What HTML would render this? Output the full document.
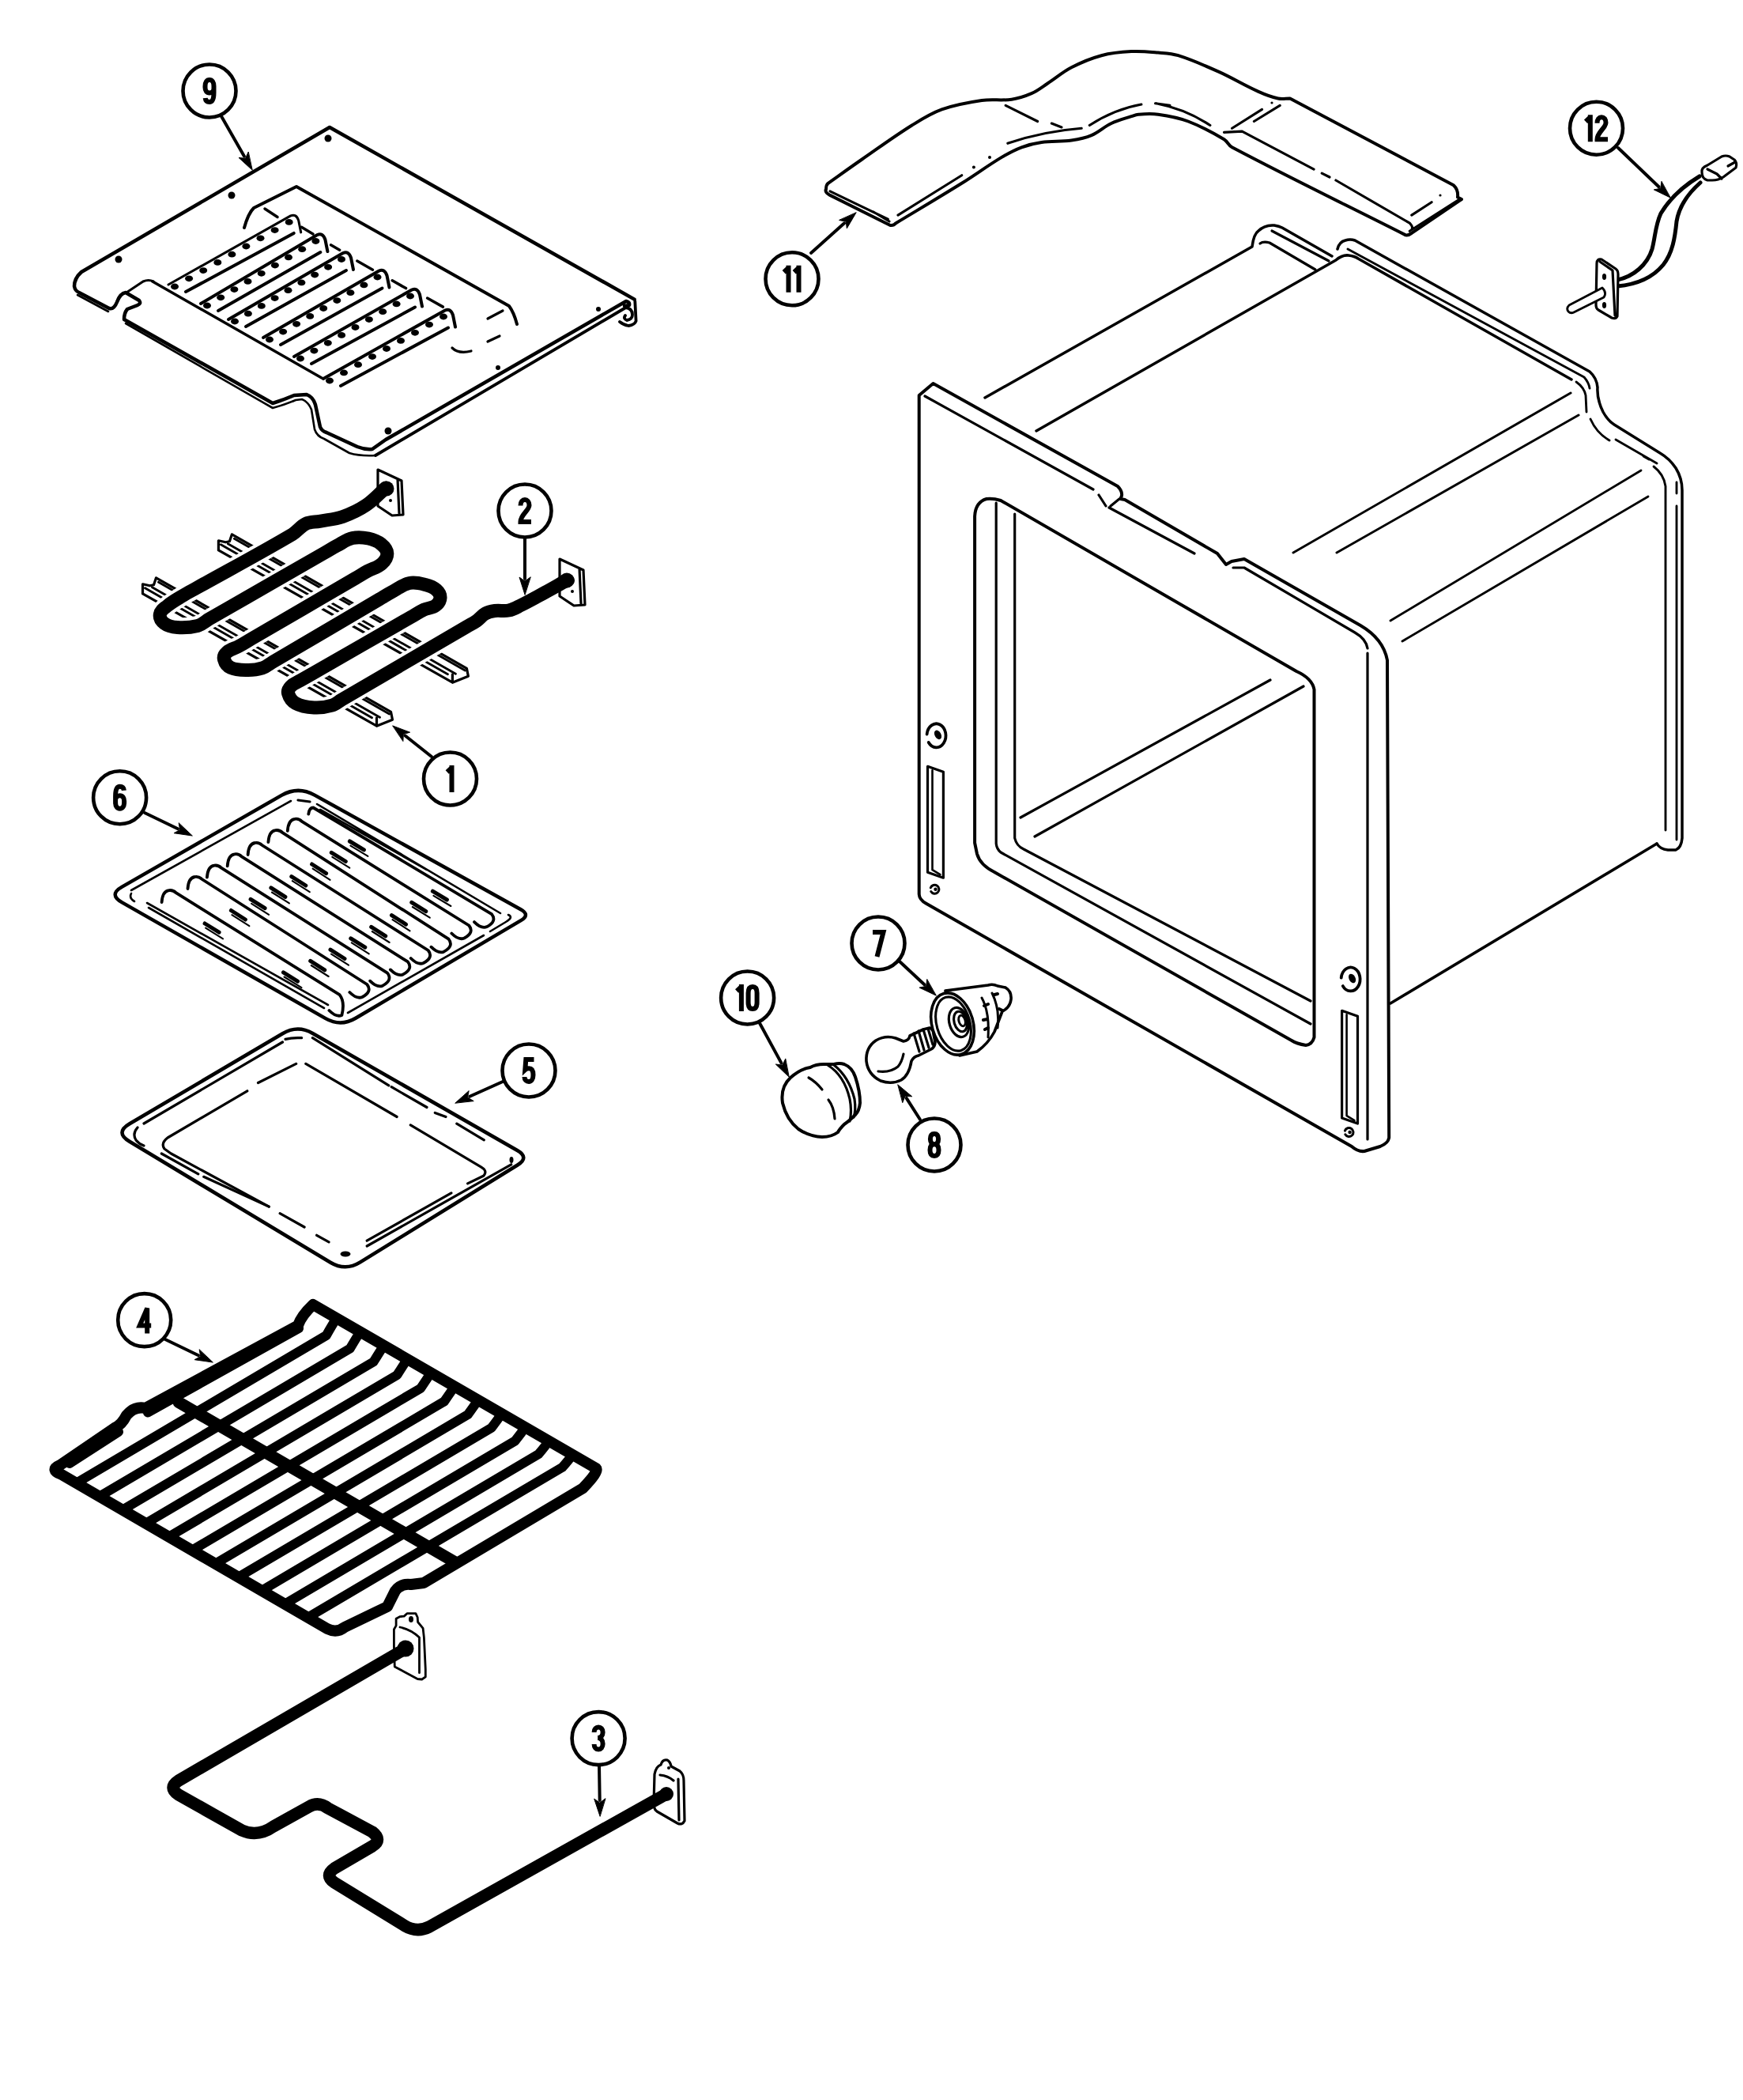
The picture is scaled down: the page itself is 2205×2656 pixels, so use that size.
<!DOCTYPE html><html><head><meta charset="utf-8"><style>
html,body{margin:0;padding:0;background:#fff;}
svg{display:block;}
.n{font-family:"Liberation Sans",sans-serif;font-weight:bold;font-size:47px;fill:#000;}
</style></head><body>
<svg width="2205" height="2656" viewBox="0 0 2205 2656" fill="none" stroke="#000" stroke-linecap="round" stroke-linejoin="round">
<g id="p9">
<path stroke-width="4.5" d="M802.6,378.6 L417,161 L103,344 Q94,352 94,362 Q95,368 100,370 L138,390 Q144,392 148,382 Q152,371 159,370 L176,380 Q179,384 174,386 L161,391 Q157,396 157,404 L345,510 Q358,506 372,500 L388,499 Q396,502 399,512 L405,540 Q407,545 413,547 L452,565 Q462,569 471,568 L488,556 L792,381 Q797,382 796,386 L790,387"/>
<path stroke-width="2.6" d="M98,373 L137,394 M159,409 L345,516 Q360,512 374,506 L382,505 Q390,508 394,518 L398,543 Q401,552 410,555 L442,573 Q455,577 475,576"/>
<path stroke-width="3.8" d="M475,576 L791.6,389 Q800,390 800,398 Q800,404 793,405 Q788,403 791,399 M803.3,381 L804.6,406 Q803,411 795,412 Q789,411 784,407"/>
<path stroke-width="3.2" d="M160,370 L181,356 Q188,353 194,356"/>
<circle cx="150" cy="328" r="4.5" fill="#000" stroke="none"/>
<circle cx="293" cy="247" r="4.5" fill="#000" stroke="none"/>
<circle cx="415" cy="175" r="4.5" fill="#000" stroke="none"/>
<circle cx="757" cy="391" r="3" fill="#000" stroke="none"/>
<circle cx="630" cy="465" r="3" fill="#000" stroke="none"/>
<circle cx="491" cy="545" r="4.5" fill="#000" stroke="none"/>
<path stroke-width="4" d="M309,288 Q314,270 321,263 L375,236 L644,387 Q650,395 654,410"/>
<path stroke-width="3.5" d="M193,356 L407,478"/>
<path stroke-width="3.2" d="M617,403 L636,393 M617,432 L632,425 M572,440 Q580,448 596,444"/>
<path stroke-width="3" d="M213,360 L367.7,272.9 Q374.7,269.9 377.7,278.9 L380.7,293.9"/>
<path stroke-width="4" d="M235,369 L371.7,294.9"/>
<ellipse cx="221.0" cy="362.5" rx="5" ry="3.9" fill="#000" stroke="none"/>
<ellipse cx="239.1" cy="352.3" rx="5" ry="3.9" fill="#000" stroke="none"/>
<ellipse cx="257.2" cy="342.1" rx="5" ry="3.9" fill="#000" stroke="none"/>
<ellipse cx="275.3" cy="331.9" rx="5" ry="3.9" fill="#000" stroke="none"/>
<ellipse cx="293.4" cy="321.7" rx="5" ry="3.9" fill="#000" stroke="none"/>
<ellipse cx="311.4" cy="311.5" rx="5" ry="3.9" fill="#000" stroke="none"/>
<ellipse cx="329.5" cy="301.3" rx="5" ry="3.9" fill="#000" stroke="none"/>
<ellipse cx="347.6" cy="291.1" rx="5" ry="3.9" fill="#000" stroke="none"/>
<ellipse cx="365.7" cy="280.9" rx="5" ry="3.9" fill="#000" stroke="none"/>
<path stroke-width="4" d="M254,384 L401.4,297 Q408.4,294 411.4,303 L414.4,318"/>
<path stroke-width="4" d="M276,393 L405.4,319"/>
<ellipse cx="262.0" cy="386.5" rx="5" ry="3.9" fill="#000" stroke="none"/>
<ellipse cx="279.2" cy="376.3" rx="5" ry="3.9" fill="#000" stroke="none"/>
<ellipse cx="296.4" cy="366.1" rx="5" ry="3.9" fill="#000" stroke="none"/>
<ellipse cx="313.5" cy="355.9" rx="5" ry="3.9" fill="#000" stroke="none"/>
<ellipse cx="330.7" cy="345.8" rx="5" ry="3.9" fill="#000" stroke="none"/>
<ellipse cx="347.9" cy="335.6" rx="5" ry="3.9" fill="#000" stroke="none"/>
<ellipse cx="365.0" cy="325.4" rx="5" ry="3.9" fill="#000" stroke="none"/>
<ellipse cx="382.2" cy="315.2" rx="5" ry="3.9" fill="#000" stroke="none"/>
<ellipse cx="399.4" cy="305.0" rx="5" ry="3.9" fill="#000" stroke="none"/>
<path stroke-width="4" d="M289,404 L434,320 Q441,317 444,326 L447,341"/>
<path stroke-width="4" d="M311,413 L438,342"/>
<ellipse cx="297.0" cy="406.5" rx="5" ry="3.9" fill="#000" stroke="none"/>
<ellipse cx="313.9" cy="396.7" rx="5" ry="3.9" fill="#000" stroke="none"/>
<ellipse cx="330.8" cy="386.9" rx="5" ry="3.9" fill="#000" stroke="none"/>
<ellipse cx="347.6" cy="377.1" rx="5" ry="3.9" fill="#000" stroke="none"/>
<ellipse cx="364.5" cy="367.2" rx="5" ry="3.9" fill="#000" stroke="none"/>
<ellipse cx="381.4" cy="357.4" rx="5" ry="3.9" fill="#000" stroke="none"/>
<ellipse cx="398.2" cy="347.6" rx="5" ry="3.9" fill="#000" stroke="none"/>
<ellipse cx="415.1" cy="337.8" rx="5" ry="3.9" fill="#000" stroke="none"/>
<ellipse cx="432.0" cy="328.0" rx="5" ry="3.9" fill="#000" stroke="none"/>
<path stroke-width="4" d="M333,427 L479.5,342.5 Q486.5,339.5 489.5,348.5 L492.5,363.5"/>
<path stroke-width="4" d="M355,436 L483.5,364.5"/>
<ellipse cx="341.0" cy="429.5" rx="5" ry="3.9" fill="#000" stroke="none"/>
<ellipse cx="358.1" cy="419.6" rx="5" ry="3.9" fill="#000" stroke="none"/>
<ellipse cx="375.1" cy="409.8" rx="5" ry="3.9" fill="#000" stroke="none"/>
<ellipse cx="392.2" cy="399.9" rx="5" ry="3.9" fill="#000" stroke="none"/>
<ellipse cx="409.2" cy="390.0" rx="5" ry="3.9" fill="#000" stroke="none"/>
<ellipse cx="426.3" cy="380.1" rx="5" ry="3.9" fill="#000" stroke="none"/>
<ellipse cx="443.4" cy="370.2" rx="5" ry="3.9" fill="#000" stroke="none"/>
<ellipse cx="460.4" cy="360.4" rx="5" ry="3.9" fill="#000" stroke="none"/>
<ellipse cx="477.5" cy="350.5" rx="5" ry="3.9" fill="#000" stroke="none"/>
<path stroke-width="4" d="M372,451 L521,366.5 Q528,363.5 531,372.5 L534,387.5"/>
<path stroke-width="4" d="M394,460 L525,388.5"/>
<ellipse cx="380.0" cy="453.5" rx="5" ry="3.9" fill="#000" stroke="none"/>
<ellipse cx="397.4" cy="443.6" rx="5" ry="3.9" fill="#000" stroke="none"/>
<ellipse cx="414.8" cy="433.8" rx="5" ry="3.9" fill="#000" stroke="none"/>
<ellipse cx="432.1" cy="423.9" rx="5" ry="3.9" fill="#000" stroke="none"/>
<ellipse cx="449.5" cy="414.0" rx="5" ry="3.9" fill="#000" stroke="none"/>
<ellipse cx="466.9" cy="404.1" rx="5" ry="3.9" fill="#000" stroke="none"/>
<ellipse cx="484.2" cy="394.2" rx="5" ry="3.9" fill="#000" stroke="none"/>
<ellipse cx="501.6" cy="384.4" rx="5" ry="3.9" fill="#000" stroke="none"/>
<ellipse cx="519.0" cy="374.5" rx="5" ry="3.9" fill="#000" stroke="none"/>
<path stroke-width="4" d="M409,479 L563,392.5 Q570,389.5 573,398.5 L576,413.5"/>
<path stroke-width="4" d="M431,488 L567,414.5"/>
<ellipse cx="417.0" cy="481.5" rx="5" ry="3.9" fill="#000" stroke="none"/>
<ellipse cx="435.0" cy="471.4" rx="5" ry="3.9" fill="#000" stroke="none"/>
<ellipse cx="453.0" cy="461.2" rx="5" ry="3.9" fill="#000" stroke="none"/>
<ellipse cx="471.0" cy="451.1" rx="5" ry="3.9" fill="#000" stroke="none"/>
<ellipse cx="489.0" cy="441.0" rx="5" ry="3.9" fill="#000" stroke="none"/>
<ellipse cx="507.0" cy="430.9" rx="5" ry="3.9" fill="#000" stroke="none"/>
<ellipse cx="525.0" cy="420.8" rx="5" ry="3.9" fill="#000" stroke="none"/>
<ellipse cx="543.0" cy="410.6" rx="5" ry="3.9" fill="#000" stroke="none"/>
<ellipse cx="561.0" cy="400.5" rx="5" ry="3.9" fill="#000" stroke="none"/>
<path stroke-width="3.5" d="M335,264 L351,274.5"/>
<path stroke-width="3.5" d="M381.5,287.3 L396,296.1"/>
<path stroke-width="3.5" d="M418.5,309.8 L429.7,316.2"/>
<path stroke-width="3.5" d="M451.8,330.1 L471.5,341.2"/>
<path stroke-width="3.5" d="M496.2,354.8 L513.5,364.6"/>
<path stroke-width="3.5" d="M540.6,377 L560.4,388.1"/>
</g>
<circle cx="265" cy="115" r="33.5" fill="#fff" stroke="#000" stroke-width="4.6"/>
<path transform="translate(256.5,98.0)" d="M3.2,26 C3.5,29.2 5.5,31 8.5,31 C12.4,31 14,27 14,19 V11 C14,6 12,3 8.5,3 C5,3 3,6 3,11 V12.5 C3,17 5,19.5 8.5,19.5 C12,19.5 14,17 14,14" stroke="#000" stroke-width="6" stroke-linecap="butt" stroke-linejoin="miter" fill="none"/>
<line x1="280" y1="147" x2="309.0" y2="197.7" stroke="#000" stroke-width="4"/>
<polygon points="319,215 302.0,199.4 310.5,200.3 314.1,192.4" fill="#000"/>
<path stroke-width="3.2" d="M276.4,695.8 L276.4,683.8 L285.4,685.8 L290.4,684.8 L293.4,675.8 L590.4,845.4 L592.4,855.2 L572.4,863.2 L572.4,852.9 M276.4,695.8 L572.4,863.2"/>
<path stroke-width="2.86" d="M296.4,681.3 L588.4,848.0 M288.4,687.8 L576.4,852.2 M279.4,688.8 L566.4,852.7"/>
<path stroke-width="3.2" d="M180.5,750.8 L180.5,738.8 L189.5,740.8 L194.5,739.8 L197.5,730.8 L494.5,900.4 L496.5,910.2 L476.5,918.2 L476.5,907.9 M180.5,750.8 L476.5,918.2"/>
<path stroke-width="2.86" d="M200.5,736.3 L492.5,903.0 M192.5,742.8 L480.5,907.2 M183.5,743.8 L470.5,907.7"/>
<path d="M488.0,617.0 C479.0,624.9 473.0,632.3 463.0,639.0 C453.2,645.6 444.7,649.5 433.6,653.4 C423.4,656.9 414.9,657.2 404.3,659.3 C398.0,660.5 392.6,659.7 386.8,662.5 C379.9,665.8 376.6,671.8 370.0,675.7 C327.3,700.8 293.2,718.8 250.0,742.9 C243.5,746.6 238.3,749.2 232.0,753.0 C224.7,757.5 218.7,760.6 212.0,766.0 C207.9,769.3 203.3,771.8 202.4,777.0 C201.6,781.5 204.3,785.7 208.0,788.5 C212.9,792.2 218.2,793.1 224.4,793.5 C233.6,794.1 241.1,793.7 250.0,791.4 C256.0,789.8 259.6,785.8 265.0,782.7 C317.2,752.8 357.8,729.5 410.0,699.5 C415.8,696.2 420.1,693.4 426.0,690.3 C433.1,686.6 438.2,682.3 446.0,680.5 C453.0,678.9 458.9,679.5 466.0,681.0 C472.2,682.3 477.1,684.1 482.0,688.0 C486.0,691.2 489.6,694.9 489.8,700.0 C490.0,705.3 486.9,709.5 483.0,713.0 C477.6,717.9 471.4,718.8 465.0,722.3 C459.5,725.3 455.4,727.9 450.0,731.1 C402.5,758.8 365.5,780.3 318.0,808.0 C312.2,811.4 307.8,814.2 302.0,817.4 C296.7,820.3 291.5,820.9 287.0,825.0 C284.4,827.3 282.6,830.6 283.5,834.0 C284.7,838.7 287.6,842.5 292.0,844.5 C298.9,847.7 305.4,847.4 313.0,847.5 C319.9,847.6 325.4,847.0 332.0,844.9 C337.2,843.2 340.3,840.0 345.0,837.2 C393.6,808.7 431.4,786.4 480.0,757.9 C485.8,754.5 490.1,751.6 496.0,748.5 C503.8,744.3 509.3,739.3 518.0,737.5 C525.1,736.0 531.0,737.7 538.0,739.5 C543.4,740.8 547.8,742.4 552.0,746.0 C555.0,748.6 557.2,752.0 557.0,756.0 C556.8,760.2 554.4,763.5 551.0,766.0 C546.4,769.3 541.2,768.8 536.0,771.2 C530.0,774.0 525.8,777.1 520.0,780.4 C475.0,806.2 440.0,826.3 395.0,852.1 C389.6,855.2 385.4,857.6 380.0,860.7 C375.6,863.3 371.5,864.3 368.0,868.0 C365.6,870.5 363.7,873.7 364.6,877.0 C366.1,882.4 369.1,886.8 374.0,889.5 C381.6,893.7 388.8,894.5 397.4,895.0 C405.6,895.5 412.1,894.5 420.0,892.2 C424.8,890.9 427.7,887.7 432.0,885.2 C488.9,851.9 533.1,826.1 590.0,792.8 C594.7,790.0 598.6,788.3 603.0,785.2 C607.2,782.2 609.5,778.5 614.0,776.0 C617.9,773.8 621.5,773.1 626.0,772.5 C632.3,771.7 637.4,773.3 643.6,772.0 C649.1,770.9 653.0,768.5 658.0,766.0 C669.7,760.2 678.5,755.2 690.0,749.0 C699.4,743.9 706.6,739.7 716.0,734.5 " stroke="#fff" stroke-width="25"/>
<path stroke-width="3.2" fill="#fff" d="M478,594 L508,608 L510,651 L496,652 L478,640 Z M503,606 L505,649"/>
<circle cx="490" cy="619" r="7" fill="#000" stroke="none"/><circle cx="494" cy="633" r="2" fill="#000" stroke="none"/>
<path stroke-width="3.2" fill="#fff" d="M708,707 L738,721 L740,765 L726,766 L708,754 Z M733,719 L735,763"/>
<circle cx="720" cy="734" r="7" fill="#000" stroke="none"/><circle cx="724" cy="748" r="2" fill="#000" stroke="none"/>
<path d="M488.0,617.0 C479.0,624.9 473.0,632.3 463.0,639.0 C453.2,645.6 444.7,649.5 433.6,653.4 C423.4,656.9 414.9,657.2 404.3,659.3 C398.0,660.5 392.6,659.7 386.8,662.5 C379.9,665.8 376.6,671.8 370.0,675.7 C327.3,700.8 293.2,718.8 250.0,742.9 C243.5,746.6 238.3,749.2 232.0,753.0 C224.7,757.5 218.7,760.6 212.0,766.0 C207.9,769.3 203.3,771.8 202.4,777.0 C201.6,781.5 204.3,785.7 208.0,788.5 C212.9,792.2 218.2,793.1 224.4,793.5 C233.6,794.1 241.1,793.7 250.0,791.4 C256.0,789.8 259.6,785.8 265.0,782.7 C317.2,752.8 357.8,729.5 410.0,699.5 C415.8,696.2 420.1,693.4 426.0,690.3 C433.1,686.6 438.2,682.3 446.0,680.5 C453.0,678.9 458.9,679.5 466.0,681.0 C472.2,682.3 477.1,684.1 482.0,688.0 C486.0,691.2 489.6,694.9 489.8,700.0 C490.0,705.3 486.9,709.5 483.0,713.0 C477.6,717.9 471.4,718.8 465.0,722.3 C459.5,725.3 455.4,727.9 450.0,731.1 C402.5,758.8 365.5,780.3 318.0,808.0 C312.2,811.4 307.8,814.2 302.0,817.4 C296.7,820.3 291.5,820.9 287.0,825.0 C284.4,827.3 282.6,830.6 283.5,834.0 C284.7,838.7 287.6,842.5 292.0,844.5 C298.9,847.7 305.4,847.4 313.0,847.5 C319.9,847.6 325.4,847.0 332.0,844.9 C337.2,843.2 340.3,840.0 345.0,837.2 C393.6,808.7 431.4,786.4 480.0,757.9 C485.8,754.5 490.1,751.6 496.0,748.5 C503.8,744.3 509.3,739.3 518.0,737.5 C525.1,736.0 531.0,737.7 538.0,739.5 C543.4,740.8 547.8,742.4 552.0,746.0 C555.0,748.6 557.2,752.0 557.0,756.0 C556.8,760.2 554.4,763.5 551.0,766.0 C546.4,769.3 541.2,768.8 536.0,771.2 C530.0,774.0 525.8,777.1 520.0,780.4 C475.0,806.2 440.0,826.3 395.0,852.1 C389.6,855.2 385.4,857.6 380.0,860.7 C375.6,863.3 371.5,864.3 368.0,868.0 C365.6,870.5 363.7,873.7 364.6,877.0 C366.1,882.4 369.1,886.8 374.0,889.5 C381.6,893.7 388.8,894.5 397.4,895.0 C405.6,895.5 412.1,894.5 420.0,892.2 C424.8,890.9 427.7,887.7 432.0,885.2 C488.9,851.9 533.1,826.1 590.0,792.8 C594.7,790.0 598.6,788.3 603.0,785.2 C607.2,782.2 609.5,778.5 614.0,776.0 C617.9,773.8 621.5,773.1 626.0,772.5 C632.3,771.7 637.4,773.3 643.6,772.0 C649.1,770.9 653.0,768.5 658.0,766.0 C669.7,760.2 678.5,755.2 690.0,749.0 C699.4,743.9 706.6,739.7 716.0,734.5 " stroke="#000" stroke-width="17"/>
<circle cx="489" cy="618" r="9.5" fill="#000" stroke="none"/><circle cx="717" cy="734" r="9.5" fill="#000" stroke="none"/>
<circle cx="664" cy="646" r="33.5" fill="#fff" stroke="#000" stroke-width="4.6"/>
<path transform="translate(655.5,629.0)" d="M3,10.5 C3,5.5 5.5,3 8.5,3 C11.5,3 14,5.5 14,10 C14,16.5 3,22 3,31 H16.5" stroke="#000" stroke-width="6" stroke-linecap="butt" stroke-linejoin="miter" fill="none"/>
<line x1="664" y1="680" x2="664.0" y2="732.0" stroke="#000" stroke-width="4"/>
<polygon points="664,752 657.0,730.0 664.0,735.0 671.0,730.0" fill="#000"/>
<circle cx="569.5" cy="985" r="33.5" fill="#fff" stroke="#000" stroke-width="4.6"/>
<path transform="translate(564.2,968.0)" d="M7.3,0 V34 M7.3,3 L1.5,8.5" stroke="#000" stroke-width="6" stroke-linecap="butt" stroke-linejoin="miter" fill="none"/>
<line x1="546" y1="957" x2="512.6" y2="930.5" stroke="#000" stroke-width="4"/>
<polygon points="497,918 518.6,926.2 510.3,928.6 509.9,937.2" fill="#000"/>
<g id="p6">
<path stroke-width="4.5" d="M398.0,1005.6 Q377.0,994.0 356.2,1005.9 L154.4,1121.6 Q137.0,1131.5 154.4,1141.4 L411.9,1288.1 Q431.0,1299.0 449.9,1287.8 L659.0,1164.1 Q671.0,1157.0 658.8,1150.2 Z"/>
<path stroke-width="2.6" d="M368,1013 L166,1126 M166,1130 Q163,1136 170,1140 M186,1142 L415,1271 M188,1148 L410,1275 M440,1281 L612,1183 M620,1178 L640,1166 Q650,1160 643,1157 M633,1155 L401,1017 M405,1024 L540,1100"/>
<path stroke-width="3.2" d="M377,1012 L392,1014"/>
<path stroke-width="3.8" d="M390.3,1029.5 Q391.3,1021.5 396.3,1021.5 L622,1156.1 Q629,1165.1 616,1172.1 Q609,1175.1 600,1166.1"/>
<path stroke-width="5" d="M442.4,1064.0 L460.4,1074.9"/>
<path stroke-width="2.08" d="M443.4,1069.6 L465.4,1082.9"/>
<path stroke-width="5" d="M547.4,1127.2 L565.4,1138.0"/>
<path stroke-width="2.08" d="M548.4,1132.8 L570.4,1146.0"/>
<path stroke-width="3.8" d="M363.8,1050.9 Q364.8,1036.9 372.8,1035.9 Q377.8,1034.9 381.8,1038.9 L593.3,1170.5 Q600.3,1179.5 587.3,1186.5 Q580.3,1189.5 571.3,1180.5"/>
<path stroke-width="5" d="M419.3,1078.3 L437.3,1089.5"/>
<path stroke-width="2.08" d="M420.3,1083.9 L442.3,1097.6"/>
<path stroke-width="5" d="M520.8,1141.4 L538.8,1152.6"/>
<path stroke-width="2.08" d="M521.8,1147.0 L543.8,1160.7"/>
<path stroke-width="3.8" d="M339.4,1065.2 Q340.4,1051.2 348.4,1050.2 Q353.4,1049.2 357.4,1053.2 L567.5,1187.7 Q574.5,1196.7 561.5,1203.7 Q554.5,1206.7 545.5,1197.7"/>
<path stroke-width="5" d="M394.6,1093.0 L412.6,1104.6"/>
<path stroke-width="2.08" d="M395.6,1098.7 L417.6,1112.8"/>
<path stroke-width="5" d="M495.5,1157.6 L513.5,1169.1"/>
<path stroke-width="2.08" d="M496.5,1163.2 L518.5,1177.3"/>
<path stroke-width="3.8" d="M313.6,1081 Q314.6,1067 322.6,1066 Q327.6,1065 331.6,1069 L541.7,1202 Q548.7,1211 535.7,1218 Q528.7,1221 519.7,1212"/>
<path stroke-width="5" d="M368.8,1108.6 L386.8,1120.0"/>
<path stroke-width="2.08" d="M369.8,1114.2 L391.8,1128.1"/>
<path stroke-width="5" d="M469.7,1172.4 L487.7,1183.8"/>
<path stroke-width="2.08" d="M470.7,1178.0 L492.7,1192.0"/>
<path stroke-width="3.8" d="M287.7,1095.3 Q288.7,1081.3 296.7,1080.3 Q301.7,1079.3 305.7,1083.3 L515.9,1216.4 Q522.9,1225.4 509.9,1232.4 Q502.9,1235.4 493.9,1226.4"/>
<path stroke-width="5" d="M342.9,1122.9 L360.9,1134.3"/>
<path stroke-width="2.08" d="M343.9,1128.5 L365.9,1142.4"/>
<path stroke-width="5" d="M443.8,1186.8 L461.8,1198.2"/>
<path stroke-width="2.08" d="M444.8,1192.4 L466.8,1206.3"/>
<path stroke-width="3.8" d="M261.9,1109.7 Q262.9,1095.7 270.9,1094.7 Q275.9,1093.7 279.9,1097.7 L490.1,1230.7 Q497.1,1239.7 484.1,1246.7 Q477.1,1249.7 468.1,1240.7"/>
<path stroke-width="5" d="M317.1,1137.3 L335.1,1148.7"/>
<path stroke-width="2.08" d="M318.1,1142.9 L340.1,1156.8"/>
<path stroke-width="5" d="M418.0,1201.1 L436.0,1212.5"/>
<path stroke-width="2.08" d="M419.0,1206.7 L441.0,1220.7"/>
<path stroke-width="3.8" d="M237.5,1124 Q238.5,1110 246.5,1109 Q251.5,1108 255.5,1112 L464.3,1245 Q471.3,1254 458.3,1261 Q451.3,1264 442.3,1255"/>
<path stroke-width="5" d="M292.4,1151.5 L310.4,1163.0"/>
<path stroke-width="2.08" d="M293.4,1157.2 L315.4,1171.2"/>
<path stroke-width="5" d="M392.7,1215.4 L410.7,1226.8"/>
<path stroke-width="2.08" d="M393.7,1221.0 L415.7,1235.0"/>
<path stroke-width="3.8" d="M204.6,1141.2 Q205.6,1127.2 213.6,1126.2 Q218.6,1125.2 222.6,1129.2 L429.6,1258.2 Q436.6,1267.2 432.4,1284 Q425.4,1287 416.4,1278"/>
<path stroke-width="5" d="M259.1,1168.0 L277.1,1179.2"/>
<path stroke-width="2.08" d="M260.1,1173.6 L282.1,1187.3"/>
<path stroke-width="5" d="M358.5,1229.9 L376.5,1241.1"/>
<path stroke-width="2.08" d="M359.5,1235.5 L381.5,1249.2"/>
</g>
<circle cx="151.6" cy="1008.8" r="33.5" fill="#fff" stroke="#000" stroke-width="4.6"/>
<path transform="translate(143.1,991.8)" d="M13.8,8 C13.5,4.8 11.5,3 8.5,3 C4.6,3 3,7 3,15 V23 C3,28 5,31 8.5,31 C12,31 14,28 14,23 V21.5 C14,17 12,14.5 8.5,14.5 C5,14.5 3,17 3,20" stroke="#000" stroke-width="6" stroke-linecap="butt" stroke-linejoin="miter" fill="none"/>
<line x1="183" y1="1028" x2="225.0" y2="1048.3" stroke="#000" stroke-width="4"/>
<polygon points="243,1057 220.1,1053.7 227.7,1049.6 226.2,1041.1" fill="#000"/>
<g id="p5">
<path stroke-width="4.6" d="M395.6,1306.9 Q376.5,1296.0 357.5,1307.2 L164.0,1421.3 Q145.0,1432.5 163.9,1443.8 L418.1,1596.7 Q437.0,1608.0 455.7,1596.4 L654.7,1473.5 Q670.0,1464.0 654.4,1455.1 Z"/>
<path stroke-width="3.2" d="M182,1421 L357.5,1318 M361,1314.4 Q370,1312 381.6,1312.7 M395.4,1312.7 L491.8,1372.9 M495.2,1374.7 L540,1400.5 M550.3,1407.4 L564,1412.5 M577.8,1421.1 L612.3,1441.8 M174,1426 Q167,1434 172,1442 Q176,1447 182,1449 M204.3,1459 L250.8,1484.8 M257.7,1488.3 L340.3,1526.1 M354.1,1534.7 L385.1,1552 M400.6,1562.3 L416,1570.9 M464.2,1576 L646.7,1472.8 M464.2,1569.2 L570.9,1508.9"/>
<path stroke-width="3.2" d="M326.5,1369.5 L374.7,1345.4 M312.8,1379.8 L212,1439 Q203,1446 208,1453 L216.4,1459 L340.3,1526.1 M386.8,1345.4 L502.1,1412.5 M519.3,1422.9 L608.8,1476.2 Q617,1481 612,1487 L591.6,1496.9"/>
<ellipse cx="437" cy="1586" rx="6.5" ry="3.5" fill="#000" stroke="none"/>
<ellipse cx="647" cy="1467" rx="2.5" ry="4" fill="#000" stroke="none"/>
</g>
<circle cx="669" cy="1354" r="33.5" fill="#fff" stroke="#000" stroke-width="4.6"/>
<path transform="translate(660.5,1337.0)" d="M15,3 H4.8 L3.8,16 C5.2,14.7 6.7,14.2 8.6,14.2 C12,14.2 14,17 14,22.5 C14,28 11.5,31 8.5,31 C5.5,31 3,29 3,25" stroke="#000" stroke-width="6" stroke-linecap="butt" stroke-linejoin="miter" fill="none"/>
<line x1="636" y1="1368" x2="594.2" y2="1386.8" stroke="#000" stroke-width="4"/>
<polygon points="576,1395 593.2,1379.6 591.5,1388.0 598.9,1392.4" fill="#000"/>
<g id="p4">
<path stroke-width="14" d="M396.0,1650.0 Q381.0,1664.3 377.0,1676.3 L184,1781 Q170,1778 160,1790 Q154,1802 145,1806 L76.0,1853.0 Q62.0,1859.0 78.0,1865.0 L414.0,2060.0 Q426.0,2066.0 436.0,2058.0 L490,2032 Q496,2020 500,2012 Q508,2002 520,2004 L536,2002 L737.0,1882.6 Q758.0,1861.0 754.0,1857.0 Z"/>
<path stroke-width="12" d="M378,1680 L187,1786.5 M150,1811 L88,1851"/>
<path stroke-width="12" d="M99.2,1874.1 L412.8,1689.0 Q421.8,1673.2 425.8,1667.2"/>
<path stroke-width="12" d="M128.3,1891.2 L442.7,1705.7 Q451.7,1690.5 455.7,1684.5"/>
<path stroke-width="12" d="M157.5,1908.2 L472.5,1722.4 Q481.5,1707.8 485.5,1701.8"/>
<path stroke-width="12" d="M186.7,1925.3 L502.3,1739.1 Q511.3,1725.0 515.3,1719.0"/>
<path stroke-width="12" d="M215.8,1942.4 L532.2,1755.8 Q541.2,1742.2 545.2,1736.2"/>
<path stroke-width="12" d="M245.0,1959.5 L562.0,1772.5 Q571.0,1759.5 575.0,1753.5"/>
<path stroke-width="12" d="M274.2,1976.6 L591.8,1789.2 Q600.8,1776.8 604.8,1770.8"/>
<path stroke-width="12" d="M303.3,1993.7 L621.7,1805.9 Q630.7,1794.0 634.7,1788.0"/>
<path stroke-width="12" d="M332.5,2010.8 L651.5,1822.5 Q660.5,1811.2 664.5,1805.2"/>
<path stroke-width="12" d="M361.7,2027.8 L681.3,1839.2 Q690.3,1828.5 694.3,1822.5"/>
<path stroke-width="12" d="M390.8,2044.9 L711.2,1855.9 Q720.2,1845.8 724.2,1839.8"/>
<path stroke-width="15" d="M226,1773.5 L576,1976"/>
</g>
<circle cx="182.7" cy="1669.6" r="33.5" fill="#fff" stroke="#000" stroke-width="4.6"/>
<path transform="translate(174.2,1652.6)" d="M12,34 V2 L2.5,24 H17" stroke="#000" stroke-width="6" stroke-linecap="butt" stroke-linejoin="miter" fill="none"/>
<line x1="209" y1="1694" x2="251.0" y2="1714.3" stroke="#000" stroke-width="4"/>
<polygon points="269,1723 246.1,1719.7 253.7,1715.6 252.2,1707.1" fill="#000"/>
<path stroke-width="2.8" fill="#fff" d="M501.1,2047.3 L506.2,2044.6 L511.2,2044.1 L514.9,2040.7 L525.9,2040.7 L528.2,2045.5 L528.6,2051.5 L535.1,2059.3 L536.4,2071.2 L538.3,2111.1 L538.3,2120.8 L533.7,2124 L528.2,2123.5 L499.3,2107.9 L498.4,2081.3 L498.4,2060.7 L501.1,2056.1 Z M506,2058 Q520,2061 530.5,2071 L530.5,2115.7"/>
<ellipse cx="520" cy="2048" rx="3" ry="4" fill="#000" stroke="none"/>
<path stroke-width="3.2" fill="#fff" d="M828,2244 Q830,2234 836,2232 Q838,2225 844,2226 Q848,2228 849,2234 L860,2240 Q865,2244 865,2252 L866,2303 Q863,2309 857,2306 L831,2291 Q827,2288 827,2282 Z M858,2250 L859,2302 M835,2245 Q845,2246 852,2252"/>
<circle cx="846" cy="2236" r="2" fill="#000" stroke="none"/>
<path d="M515,2084 L226,2252 Q212,2261 226,2270 L306,2315 Q326,2324 346,2310 L391,2285 Q403,2278 415,2287 L471,2317 Q484,2327 471,2335 L423,2363 Q410,2372 423,2381 L511,2435 Q527,2445 543,2437 L843,2269" stroke-width="15.5"/>
<circle cx="513" cy="2085" r="10.5" fill="#000" stroke="none"/><circle cx="843" cy="2269" r="9" fill="#000" stroke="none"/>
<circle cx="757.1" cy="2198.6" r="33.5" fill="#fff" stroke="#000" stroke-width="4.6"/>
<path transform="translate(748.6,2181.6)" d="M3,9.5 C3,5 5.5,3 8.5,3 C11.5,3 14,5 14,9.5 C14,14 11.5,16.5 7.5,16.5 M7.5,16.5 C11.5,16.5 14,19 14,24 C14,28.5 11.5,31 8.5,31 C5.5,31 3,29 3,24.5" stroke="#000" stroke-width="6" stroke-linecap="butt" stroke-linejoin="miter" fill="none"/>
<line x1="758" y1="2233" x2="758.7" y2="2277.0" stroke="#000" stroke-width="4"/>
<polygon points="759,2297 751.7,2275.1 758.7,2280.0 765.7,2274.9" fill="#000"/>
<g id="p11">
<path stroke-width="4" fill="#fff" d="M1047.6,231.8 C1063.0,220.9 1074.9,212.3 1090.5,201.5 C1113.1,185.9 1130.3,173.1 1153.6,158.5 C1166.7,150.3 1177.0,143.6 1191.5,138.4 C1209.1,132.1 1223.6,129.7 1242.0,127.0 C1255.5,125.1 1266.3,127.6 1279.8,125.7 C1289.2,124.4 1296.3,122.0 1305.0,118.2 C1312.9,114.7 1318.1,110.2 1325.3,105.5 C1336.3,98.4 1343.9,91.3 1355.5,85.3 C1368.5,78.5 1379.2,74.0 1393.4,70.2 C1406.7,66.7 1417.6,65.8 1431.3,65.1 C1443.4,64.5 1452.9,65.5 1465.0,66.5 C1474.2,67.3 1481.7,67.4 1490.5,70.2 C1509.2,76.1 1523.1,82.4 1541.0,90.4 C1559.5,98.7 1573.0,107.3 1591.5,115.6 C1600.3,119.6 1607.3,122.4 1616.7,124.5 C1622.0,125.7 1626.4,124.5 1631.9,124.5  L1838.8,234.3 Q1845,240 1844,249.4 L1849,252 L1785.8,294.9 Q1782,298 1778.3,297.4 C1699.2,257.4 1637.0,227.6 1558.6,186.3 C1554.1,183.9 1552.9,178.8 1548.5,176.2 C1532.8,166.9 1520.2,160.0 1503.1,153.5 C1490.0,148.5 1479.1,146.6 1465.2,144.7 C1456.2,143.4 1449.0,144.0 1440.0,144.7 C1436.8,144.9 1434.4,146.2 1431.3,147.2 C1422.1,150.2 1414.7,151.9 1406.0,156.0 C1396.4,160.5 1390.5,167.0 1380.8,171.2 C1372.2,174.9 1364.8,176.2 1355.5,177.5 C1342.0,179.4 1331.2,178.1 1317.7,180.0 C1308.4,181.3 1301.2,183.0 1292.4,186.3 C1282.9,189.9 1275.9,193.7 1267.2,198.9 C1248.6,210.1 1235.1,220.3 1216.7,231.8 C1186.9,250.3 1163.4,264.1 1133.4,282.2  Q1130,286 1125.8,284.8 L1050,246.9 Q1043,243 1045,239.3 Q1045,234 1047.6,231.8 Z"/>
<path stroke-width="3.12" d="M1050,241.9 L1123.3,277.2 M1105,268 L1125,280 M1136,272.1 L1216.7,221.7 M1272.2,133.3 L1312.6,153.5 M1330.3,156 L1343,161 M1274.8,181.3 Q1320,166 1368.2,162.3 M1378.3,158.5 Q1410,138 1443.9,132 M1461.6,130.8 L1480,133.3 M1462.7,130.8 Q1500,138 1530.9,158.5 M1558.6,162.3 L1596.5,138.4 M1586.4,153.5 L1619.2,133.3 M1548.5,167.4 L1571.3,166.1 L1662.1,214.1 M1672.2,219.1 L1682,224 M1689.9,228 L1783.3,282.2 Q1788,287 1786,290 M1785.8,272.1 L1811.1,255.7 M1783.3,292.3 L1846.4,252"/>
<circle cx="1231.9" cy="211.6" r="2" fill="#000" stroke="none"/><circle cx="1252" cy="198.9" r="2" fill="#000" stroke="none"/><circle cx="1822" cy="247" r="1.6" fill="#000" stroke="none"/><circle cx="1609" cy="130" r="1.6" fill="#000" stroke="none"/>
</g>
<circle cx="1002" cy="352.8" r="33.5" fill="#fff" stroke="#000" stroke-width="4.6"/>
<path transform="translate(990.2,335.8)" d="M7.3,0 V34 M7.3,3 L1.5,8.5" stroke="#000" stroke-width="6" stroke-linecap="butt" stroke-linejoin="miter" fill="none"/>
<path transform="translate(1003.2,335.8)" d="M7.3,0 V34 M7.3,3 L1.5,8.5" stroke="#000" stroke-width="6" stroke-linecap="butt" stroke-linejoin="miter" fill="none"/>
<line x1="1026" y1="320" x2="1068.1" y2="282.3" stroke="#000" stroke-width="4"/>
<polygon points="1083,269 1071.3,288.9 1070.3,280.3 1061.9,278.5" fill="#000"/>
<g id="p12">
<path stroke-width="5" d="M2150,223 C2125,238 2110,255 2101,270 C2094,285 2094,300 2090,315 C2084,335 2066,350 2046,354"/>
<path stroke-width="5" d="M2151,231 C2134,246 2124,262 2121,280 C2119,300 2116,320 2104,335 C2090,352 2068,360 2046,362"/>
<path stroke-width="3.2" fill="#fff" d="M2153,218 Q2152,212 2160,209 L2178,198 Q2183,196 2188,198 L2194,202 Q2198,206 2196,212 L2180,224 Q2174,228 2166,228 L2160,228 Q2153,226 2153,218 Z M2160,214 L2172,220 L2178,226 M2186,210 L2195,205"/>
<path stroke-width="3.2" fill="#fff" d="M2020,333 Q2020,327 2026,328 L2044,340 Q2047,342 2047,347 L2046,400 Q2044,404 2039,402 L2022,392 Q2019,390 2019,386 Z M2024,331 L2040,342 L2043,399"/>
<ellipse cx="2029.5" cy="350" rx="2.6" ry="4" fill="#000" stroke="none"/><ellipse cx="2029.5" cy="386" rx="2.6" ry="4" fill="#000" stroke="none"/>
<path stroke-width="2.8" fill="#fff" d="M2027,364 L1985,386 Q1981,390 1984,394 Q1987,397 1991,395 L2029,376 Q2033,370 2027,364 Z"/>
</g>
<circle cx="2019.5" cy="162.2" r="33.5" fill="#fff" stroke="#000" stroke-width="4.6"/>
<path transform="translate(2004.5,145.2)" d="M7.3,0 V34 M7.3,3 L1.5,8.5" stroke="#000" stroke-width="6" stroke-linecap="butt" stroke-linejoin="miter" fill="none"/>
<path transform="translate(2017.5,145.2)" d="M3,10.5 C3,5.5 5.5,3 8.5,3 C11.5,3 14,5.5 14,10 C14,16.5 3,22 3,31 H16.5" stroke="#000" stroke-width="6" stroke-linecap="butt" stroke-linejoin="miter" fill="none"/>
<line x1="2047" y1="187" x2="2098.5" y2="236.2" stroke="#000" stroke-width="4"/>
<polygon points="2113,250 2092.3,239.9 2100.7,238.3 2101.9,229.7" fill="#000"/>
<g id="cav">
<path stroke-width="4" d="M1162.7,500 L1180.5,485 L1413.9,615 Q1420,621 1419,627 L1417.5,631 L1423,632 L1540,700 L1551,714 L1558,710 L1574,707 L1721,791 Q1750,808 1755,835 L1757.2,1439 Q1756,1446 1746,1450 L1726,1456 Q1718,1457 1710,1450 L1171.7,1142.8 Q1163,1138 1162.7,1131 Z"/>
<path stroke-width="3.2" d="M1170,501 L1383,619 M1390,626 L1399,640 M1405,640 L1416,631 M1403,642 L1511,700 M1560,718 L1574,718 L1714,800 Q1728,808 1730,820 M1730,826 L1730,1441"/>
<path stroke-width="4" d="M1233.1,1066 L1233.1,653 Q1234,635 1248,631 Q1256,630 1266,633 L1640,849 Q1660,858 1662.5,872 L1662.5,1312 Q1660,1321 1652,1322 Q1640,1320 1634,1316 L1258,1103 Q1240,1094 1236,1080 Z"/>
<path stroke-width="3.2" d="M1260.2,636 L1260.2,1067 Q1261,1074 1266,1078 L1658,1295 M1283.7,650 L1283.7,1060 Q1286,1070 1295,1074 L1658,1266 M1291,1034 L1607,860 M1309,1058 L1649,868"/>
<path stroke-width="3.5" d="M1246,503 L1584,312 Q1586,296 1592,292 Q1600,284 1612,285 Q1618,286 1622,288 L1685,324"/>
<path stroke-width="3.2" d="M1594,308 Q1598,305 1606,307 L1664,341 M1609,292 L1681,330"/>
<path stroke-width="3.5" d="M1311,545 L1690,329 Q1698,322 1706,323 Q1714,324 1718,327 L1988,480"/>
<path stroke-width="3.5" d="M1692,315 Q1694,306 1702,304 Q1708,302 1714,304 L2011,470 Q2020,478 2021,490 Q2020,505 2028,521 Q2034,532 2042,537 L2100,573 Q2112,580 2120,592 Q2128,605 2128,620 L2128,1060 Q2127,1072 2120,1075 L2110,1075 Q2100,1074 2096,1067"/>
<path stroke-width="2.86" d="M1705,315 L2004,477 Q2010,484 2011,491 M1994,483 Q2004,490 2006,500 L2007,521 M2012,530 Q2020,548 2036,557 M2044,556 L2096,586 M2079,577 L2086,581 M2092,590 Q2105,600 2107,615 L2107,1050 M2121,610 L2121,624 M2121,640 L2121,1062"/>
<path stroke-width="3" d="M1636,699 L1987,497 M1691,699 L1997,525"/>
<path stroke-width="2.86" d="M1759,785 L2076,595 M1774,811 L2085,628"/>
<path stroke-width="3.5" d="M1759,1269 L2096,1067"/>
<path stroke-width="3.8" d="M1172.6,928.6 A12,15 0 1 1 1174.7,939.0"/>
<ellipse cx="1186.5" cy="929.4" rx="4" ry="6.2" transform="rotate(-28 1186.5 929.4)" fill="#000" stroke="none"/>
<path stroke-width="3.8" d="M1696.7,1236.7 A12,15 0 1 1 1698.8,1247.1"/>
<ellipse cx="1710.6" cy="1237.5" rx="4" ry="6.2" transform="rotate(-28 1710.6 1237.5)" fill="#000" stroke="none"/>
<path stroke-width="3" d="M1177.3,1122.8 A5.5,5.5 0 1 1 1177.7,1127.5"/>
<circle cx="1183.5" cy="1124.7" r="2.2" fill="#000" stroke="none"/>
<path stroke-width="3" d="M1701.4,1430.1 A5.5,5.5 0 1 1 1701.8,1434.8"/>
<circle cx="1707.6" cy="1432" r="2.2" fill="#000" stroke="none"/>
<path stroke-width="3.2" d="M1173.5,969.3 L1193.4,976.3 L1193.4,1110.2 L1173.5,1103.2 Z"/>
<path stroke-width="2.6" d="M1179.5,974.3 L1179.5,1100.2 L1189.4,1106.2"/>
<path stroke-width="3.2" d="M1697.6,1278.3 L1717.5,1285.3 L1717.5,1421.1 L1697.6,1414.1 Z"/>
<path stroke-width="2.6" d="M1703.6,1283.3 L1703.6,1411.1 L1713.5,1417.1"/>
</g>
<path stroke-width="4" fill="#fff" d="M1000,1363 Q1012,1352 1025,1350 Q1032,1346 1042,1346 L1055,1346 Q1062,1344 1068,1346 Q1078,1350 1082,1362 Q1088,1380 1088,1395 Q1087,1405 1082,1410 Q1074,1418 1068,1422 Q1062,1428 1060,1432 Q1052,1438 1040,1438 Q1025,1438 1010,1428 Q995,1416 990,1395 Q987,1375 1000,1363 Z"/>
<path stroke-width="3.2" d="M1047,1347 Q1068,1360 1075,1390 Q1078,1405 1075,1418 M1055,1347 Q1074,1362 1081,1390 Q1083,1404 1080,1413 M1023,1363 Q1032,1368 1040,1378 M1048,1391 Q1055,1400 1056,1415"/>
<circle cx="945.6" cy="1262" r="33.5" fill="#fff" stroke="#000" stroke-width="4.6"/>
<path transform="translate(930.6,1245.0)" d="M7.3,0 V34 M7.3,3 L1.5,8.5" stroke="#000" stroke-width="6" stroke-linecap="butt" stroke-linejoin="miter" fill="none"/>
<path transform="translate(943.6,1245.0)" d="M8.5,3 C4.6,3 3,6 3,11 V23 C3,28 4.6,31 8.5,31 C12.4,31 14,28 14,23 V11 C14,6 12.4,3 8.5,3 Z" stroke="#000" stroke-width="6" stroke-linecap="butt" stroke-linejoin="miter" fill="none"/>
<line x1="961" y1="1294" x2="988.4" y2="1344.4" stroke="#000" stroke-width="4"/>
<polygon points="998,1362 981.3,1346.0 989.9,1347.1 993.6,1339.3" fill="#000"/>
<path stroke-width="3.6" fill="#fff" d="M1143,1317 Q1150,1316 1151,1310 L1168,1302 L1176,1300 Q1181,1302 1181,1308 L1183,1318 Q1183,1324 1178,1327 L1162,1335 Q1156,1336 1153,1342 Q1150,1360 1140,1366 Q1128,1372 1114,1367 Q1098,1359 1096,1342 Q1095,1325 1108,1316 Q1120,1309 1133,1313 Q1138,1315 1143,1317 Z"/>
<path stroke-width="3.2" d="M1156,1307 L1163,1330 M1162,1304 L1169,1328 M1168,1302 L1175,1325 M1174,1301 L1180,1321 M1111,1355 Q1126,1357 1136,1349 Q1141,1343 1143,1333"/>
<circle cx="1182" cy="1448" r="33.5" fill="#fff" stroke="#000" stroke-width="4.6"/>
<path transform="translate(1173.5,1431.0)" d="M8.5,16.2 C5.3,16.2 3.4,14 3.4,9.6 C3.4,5 5.4,3 8.5,3 C11.6,3 13.6,5 13.6,9.6 C13.6,14 11.7,16.2 8.5,16.2 C5,16.2 3,18.7 3,23.6 C3,28.5 5,31 8.5,31 C12,31 14,28.5 14,23.6 C14,18.7 12,16.2 8.5,16.2 Z" stroke="#000" stroke-width="6" stroke-linecap="butt" stroke-linejoin="miter" fill="none"/>
<line x1="1164" y1="1416" x2="1146.7" y2="1388.9" stroke="#000" stroke-width="4"/>
<polygon points="1136,1372 1153.7,1386.8 1145.1,1386.3 1141.9,1394.3" fill="#000"/>
<path stroke-width="3.6" fill="#fff" d="M1196,1253 L1250,1246 Q1256,1244 1262,1247 L1272,1249 Q1280,1254 1279,1264 Q1278,1274 1268,1279 L1258,1305 Q1250,1320 1236,1330 L1214,1335 Z"/>
<ellipse cx="1205" cy="1295" rx="26" ry="40" transform="rotate(-16 1205 1295)" stroke-width="3.6" fill="#fff"/>
<ellipse cx="1206" cy="1295" rx="21" ry="35" transform="rotate(-16 1206 1295)" stroke-width="3.12"/>
<ellipse cx="1213" cy="1293" rx="12" ry="19" transform="rotate(-16 1213 1293)" stroke-width="3.2"/>
<ellipse cx="1215" cy="1292" rx="8" ry="13" transform="rotate(-16 1215 1292)" stroke-width="3.12"/>
<ellipse cx="1217" cy="1291" rx="4" ry="7" transform="rotate(-16 1217 1291)" stroke-width="2.86"/>
<path stroke-width="3" d="M1242,1262 Q1252,1280 1250,1312 M1255,1256 Q1265,1276 1262,1300"/>
<path stroke-width="4" d="M1245,1272 L1250,1270 M1258,1258 L1262,1257 M1264,1276 L1268,1278 M1244,1290 L1249,1289 M1246,1302 L1250,1300"/>
<circle cx="1111" cy="1193" r="33.5" fill="#fff" stroke="#000" stroke-width="4.6"/>
<path transform="translate(1102.5,1176.0)" d="M1.5,3 H15 L7,34" stroke="#000" stroke-width="6" stroke-linecap="butt" stroke-linejoin="miter" fill="none"/>
<line x1="1138" y1="1216" x2="1169.4" y2="1245.3" stroke="#000" stroke-width="4"/>
<polygon points="1184,1259 1163.1,1249.1 1171.6,1247.4 1172.7,1238.9" fill="#000"/>
</svg></body></html>
